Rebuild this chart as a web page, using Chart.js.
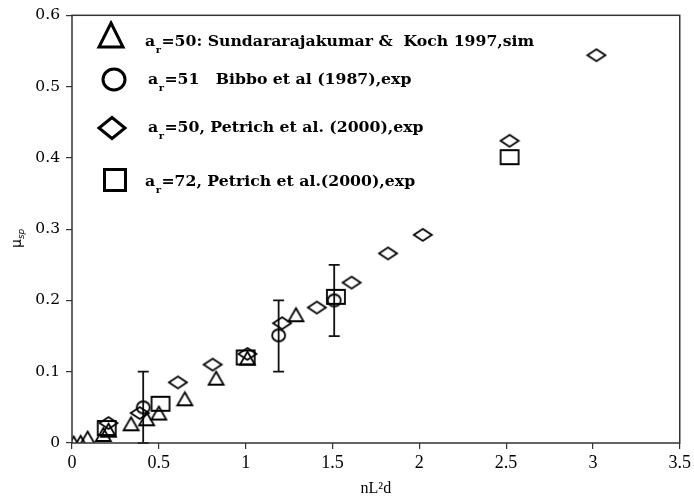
<!DOCTYPE html>
<html><head><meta charset="utf-8">
<script src="https://cdn.jsdelivr.net/npm/chart.js@4.4.1/dist/chart.umd.min.js"></script>
<style>html,body{margin:0;padding:0;background:#fff}</style>
</head><body>
<canvas id="c" width="694" height="503"></canvas>
<script>
// ---- data ----
const triX = [0.01, 0.05, 0.09, 0.18, 0.21, 0.34, 0.43, 0.50, 0.65, 0.83, 1.01, 1.29];
const triY = [0.000, 0.001, 0.007, 0.012, 0.018, 0.027, 0.034, 0.042, 0.062, 0.091, 0.119, 0.180];
const cirX = [0.41, 1.19, 1.51];
const cirY = [0.050, 0.151, 0.200];
const cirErrLow = [0.00, 0.10, 0.15];
const cirErrHigh = [0.10, 0.20, 0.25];
const diaX = [0.21, 0.39, 0.61, 0.81, 1.01, 1.21, 1.41, 1.61, 1.82, 2.02, 2.52, 3.02];
const diaY = [0.028, 0.042, 0.085, 0.110, 0.125, 0.168, 0.190, 0.225, 0.266, 0.292, 0.424, 0.544];
const sqX = [0.20, 0.51, 1.00, 1.52, 2.52];
const sqY = [0.021, 0.055, 0.120, 0.205, 0.401];
const xTickLabels = ['0', '0.5', '1', '1.5', '2', '2.5', '3', '3.5'];
const yTickLabels = ['0', '0.1', '0.2', '0.3', '0.4', '0.5', '0.6'];
const legendSub = ['r', 'r', 'r', 'r'];
const legendText = ['=50: Sundararajakumar &  Koch 1997,sim', '=51   Bibbo et al (1987),exp', '=50, Petrich et al. (2000),exp', '=72, Petrich et al.(2000),exp'];
const xTitle = 'nL\u00B2d';
const yTitleMain = '\u03BC';
const yTitleSub = 'sp';

// ---- marker drawing ----
function shapePath(ctx, kind, cx, cy, w, h) {
  ctx.beginPath();
  if (kind === 'tri') {
    ctx.moveTo(cx, cy - h / 2); ctx.lineTo(cx + w / 2, cy + h / 2); ctx.lineTo(cx - w / 2, cy + h / 2); ctx.closePath();
  } else if (kind === 'cir') {
    ctx.ellipse(cx, cy, w / 2, h / 2, 0, 0, Math.PI * 2);
  } else if (kind === 'dia') {
    ctx.moveTo(cx, cy - h / 2); ctx.lineTo(cx + w / 2, cy); ctx.lineTo(cx, cy + h / 2); ctx.lineTo(cx - w / 2, cy); ctx.closePath();
  } else {
    ctx.rect(cx - w / 2, cy - h / 2, w, h);
  }
}
function markerCanvas(kind, w, h, lw) {
  const c = document.createElement('canvas');
  c.width = Math.ceil(w + lw + 2); c.height = Math.ceil(h + lw + 2);
  const ctx = c.getContext('2d');
  ctx.strokeStyle = '#000'; ctx.lineWidth = lw; ctx.lineJoin = 'miter';
  shapePath(ctx, kind, c.width / 2, c.height / 2, w, h);
  ctx.stroke();
  return c;
}
const mkTri = markerCanvas('tri', 15, 13, 1.8);
const mkCir = markerCanvas('cir', 13, 12, 1.8);
const mkDia = markerCanvas('dia', 18, 12, 1.8);
const mkSq = markerCanvas('sq', 18, 14, 1.8);

const pts = (xs, ys) => xs.map((x, i) => ({ x: x, y: ys[i] }));

const framePlugin = {
  id: 'frame',
  beforeDatasetsDraw(chart) {
    const { ctx, scales } = chart;
    ctx.save();
    ctx.strokeStyle = '#111'; ctx.lineWidth = 1.8;
    cirX.forEach((x, i) => {
      const px = scales.x.getPixelForValue(x);
      const y1 = scales.y.getPixelForValue(cirErrLow[i]);
      const y2 = scales.y.getPixelForValue(cirErrHigh[i]);
      ctx.beginPath();
      ctx.moveTo(px, y1); ctx.lineTo(px, y2);
      ctx.moveTo(px - 5.5, y1); ctx.lineTo(px + 5.5, y1);
      ctx.moveTo(px - 5.5, y2); ctx.lineTo(px + 5.5, y2);
      ctx.stroke();
    });
    ctx.restore();
  },
  afterDraw(chart) {
    const { ctx, chartArea: a } = chart;
    ctx.save();
    ctx.strokeStyle = '#333'; ctx.lineWidth = 1.5;
    ctx.strokeRect(a.left, a.top, a.right - a.left, a.bottom - a.top);
    ctx.translate(21, 248); ctx.rotate(-Math.PI / 2);
    ctx.fillStyle = '#000'; ctx.textBaseline = 'alphabetic';
    ctx.font = '14px "DejaVu Sans"';
    ctx.fillText(yTitleMain, 0, 0);
    const mw = ctx.measureText(yTitleMain).width;
    ctx.font = 'italic 9px "DejaVu Sans"';
    ctx.fillText(yTitleSub, mw, 3);
    ctx.restore();
    // legend
    const mk = [['tri', 111, 35, 24, 24], ['cir', 114, 79.5, 22, 21], ['dia', 112, 128, 26, 21], ['sq', 115, 180, 21, 21]];
    const tx = [145, 148, 148, 145];
    const ty = [46, 84, 132, 186];
    ctx.save();
    ctx.strokeStyle = '#000'; ctx.lineWidth = 3;
    mk.forEach(m => { shapePath(ctx, m[0], m[1], m[2], m[3], m[4]); ctx.stroke(); });
    ctx.fillStyle = '#000';
    for (let i = 0; i < 4; i++) {
      ctx.font = 'bold 15.7px "DejaVu Serif"';
      ctx.fillText('a', tx[i], ty[i]);
      const aw = ctx.measureText('a').width;
      ctx.font = 'bold 10px "DejaVu Serif"';
      ctx.fillText(legendSub[i], tx[i] + aw + 0.5, ty[i] + 7);
      const rw = ctx.measureText(legendSub[i]).width;
      ctx.font = 'bold 15.7px "DejaVu Serif"';
      ctx.fillText(legendText[i], tx[i] + aw + rw + 1, ty[i]);
    }
    ctx.restore();
  }
};

new Chart(document.getElementById('c'), {
  type: 'scatter',
  data: {
    datasets: [
      { label: 'tri', data: pts(triX, triY), pointStyle: mkTri },
      { label: 'cir', data: pts(cirX, cirY), pointStyle: mkCir },
      { label: 'dia', data: pts(diaX, diaY), pointStyle: mkDia },
      { label: 'sq', data: pts(sqX, sqY), pointStyle: mkSq }
    ]
  },
  options: {
    responsive: false,
    devicePixelRatio: 1,
    animation: false,
    layout: { padding: { top: 12, right: 13, left: 0, bottom: 0 } },
    plugins: { legend: { display: false }, tooltip: { enabled: false } },
    scales: {
      x: {
        type: 'linear', min: 0, max: 3.5,
        afterFit: s => { s.height = 60; },
        afterBuildTicks: s => { s.ticks = xTickLabels.map(t => ({ value: parseFloat(t) })); },
        border: { display: false },
        grid: { drawOnChartArea: false, drawTicks: true, tickLength: 6, tickColor: '#333', lineWidth: 1.2 },
        ticks: { color: '#000', font: { family: 'Liberation Serif', size: 18 }, padding: 3, maxRotation: 0,
          callback: (v, i) => xTickLabels[i] },
        title: { display: true, text: xTitle, color: '#000', font: { family: 'Liberation Serif', size: 16 }, padding: { top: 0, bottom: 5 } }
      },
      y: {
        type: 'linear', min: 0, max: 0.6,
        afterFit: s => { s.width = 72; },
        afterBuildTicks: s => { s.ticks = yTickLabels.map(t => ({ value: parseFloat(t) })); },
        border: { display: false },
        grid: { drawOnChartArea: false, drawTicks: true, tickLength: 6, tickColor: '#333', lineWidth: 1.2 },
        ticks: { color: '#000', font: { family: 'DejaVu Serif', size: 15.5 }, padding: 6,
          callback: (v, i) => yTickLabels[i] }
      }
    }
  },
  plugins: [framePlugin]
});
</script>
</body></html>
